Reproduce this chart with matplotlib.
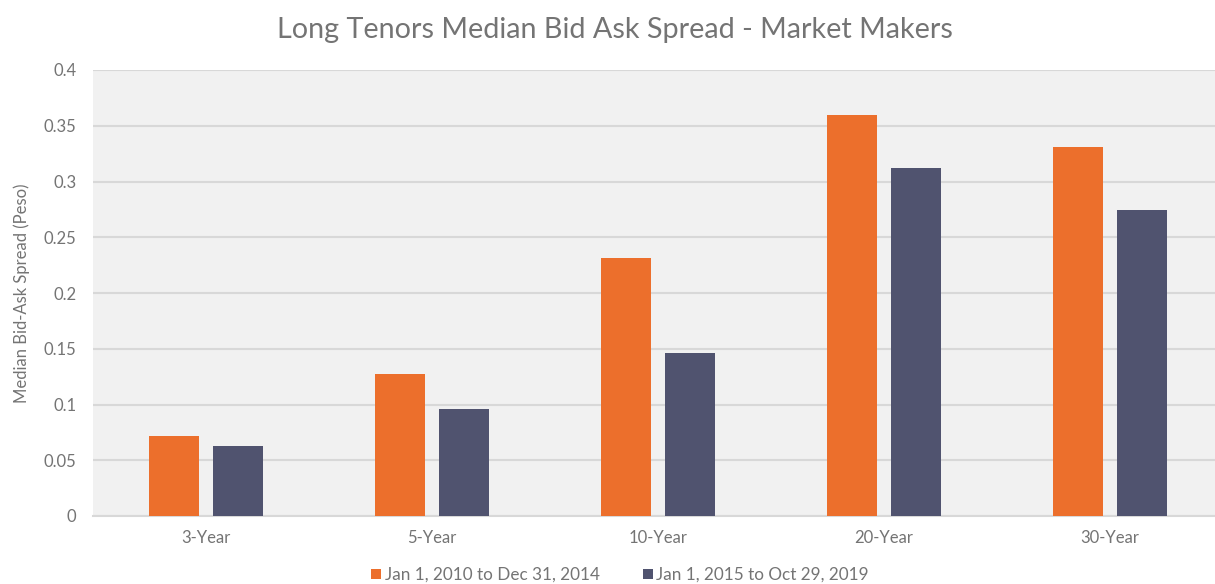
import numpy as np
import matplotlib.pyplot as plt

plt.rcParams['font.family'] = ['Lato', 'DejaVu Sans']

tenors = ['3-Year', '5-Year', '10-Year', '20-Year', '30-Year']
spread_2010_2014 = [0.072, 0.127, 0.231, 0.360, 0.331]
spread_2015_2019 = [0.063, 0.096, 0.146, 0.312, 0.274]
series_labels = ['Jan 1, 2010 to Dec 31, 2014', 'Jan 1, 2015 to Oct 29, 2019']
yticks = [0, 0.05, 0.1, 0.15, 0.2, 0.25, 0.3, 0.35, 0.4]
ytick_labels = ['0', '0.05', '0.1', '0.15', '0.2', '0.25', '0.3', '0.35', '0.4']

orange = '#EC6F2C'
navy = '#50536F'
text_gray = '#747474'

fig = plt.figure(figsize=(12.15, 5.84), dpi=100)
ax = fig.add_axes([93 / 1215, 68 / 584, 1130 / 1215, 446 / 584])
ax.set_facecolor('#F1F1F1')

x = np.arange(len(tenors))
width = 0.221
offset = 0.142

ax.bar(x - offset, spread_2010_2014, width, color=orange, label=series_labels[0], zorder=3)
ax.bar(x + offset, spread_2015_2019, width, color=navy, label=series_labels[1], zorder=3)

ax.set_xlim(-0.5, 4.5)
ax.set_ylim(0, 0.4)
ax.set_yticks(yticks)
ax.set_yticklabels(ytick_labels)
ax.set_xticks(x)
ax.set_xticklabels(tenors)

ax.yaxis.grid(True, color='#D8D8D8', linewidth=1.5, zorder=1)
ax.set_axisbelow(True)
for side in ['top', 'right', 'left']:
    ax.spines[side].set_visible(False)
ax.spines['bottom'].set_color('#D8D8D8')
ax.spines['bottom'].set_linewidth(1.5)

ax.tick_params(axis='both', length=0, labelsize=12, colors=text_gray)
ax.tick_params(axis='y', pad=12)
ax.tick_params(axis='x', pad=10)

ax.set_ylabel('Median Bid-Ask Spread (Peso)', fontsize=12, color=text_gray, labelpad=10)

fig.text(615 / 1215, 1 - 30 / 584, 'Long Tenors Median Bid Ask Spread - Market Makers',
         ha='center', va='center', fontsize=20.7, color=text_gray)

fig.legend(loc='center', bbox_to_anchor=(620 / 1215, 1 - 575 / 584), ncol=2, frameon=False,
           fontsize=12.3, labelcolor=text_gray, handlelength=0.6, handleheight=0.6,
           handletextpad=0.2, columnspacing=2.5)

fig.savefig('out.png', dpi=100)
